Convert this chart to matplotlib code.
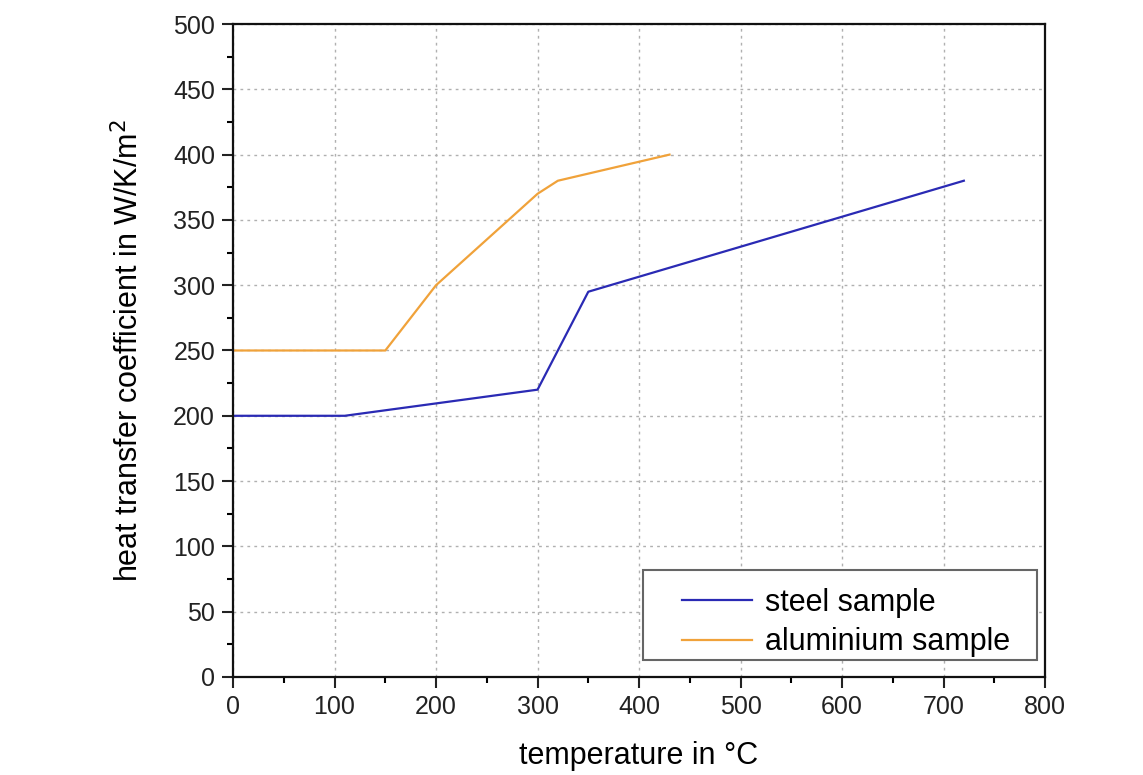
import matplotlib
matplotlib.use('Agg')
from matplotlib import pyplot as plt
from matplotlib.patches import Rectangle
from matplotlib.ticker import MultipleLocator

steel_t = [0, 110, 300, 350, 720]
steel_h = [200, 200, 220, 295, 380]
alu_t = [0, 150, 200, 300, 320, 430]
alu_h = [250, 250, 300, 370, 380, 400]

plt.rcParams['font.family'] = ['Liberation Sans', 'DejaVu Sans']

fig = plt.figure(figsize=(11.43, 7.75), dpi=100)
ax = fig.add_axes([0.2039, 0.1265, 0.7104, 0.8425])

ax.plot(steel_t, steel_h, color='#2a2ab4', lw=1.6, label='steel sample')
ax.plot(alu_t, alu_h, color='#f0a23a', lw=1.6, label='aluminium sample')

ax.set_xlim(0, 800)
ax.set_ylim(0, 500)
ax.xaxis.set_major_locator(MultipleLocator(100))
ax.xaxis.set_minor_locator(MultipleLocator(50))
ax.yaxis.set_major_locator(MultipleLocator(50))
ax.yaxis.set_minor_locator(MultipleLocator(25))
ax.tick_params(which='major', length=8, width=1.5, labelsize=18, colors='#222222', pad=5)
ax.tick_params(which='minor', length=4, width=1.5)
ax.tick_params(axis='both', which='both', top=False, right=False, direction='out')

ax.grid(True, which='major', color='#b0b0b0', linestyle=(0, (2, 3)), lw=1.0)
for s in ax.spines.values():
    s.set_linewidth(1.6)
    s.set_color('#111111')

ax.set_xlabel('temperature in °C', fontsize=22, labelpad=16)
ax.set_ylabel('heat transfer coefficient in W/K/m$^2$', fontsize=22, labelpad=20)

# legend frame is wider than its content in the original
box = Rectangle((0.505, 0.026), 0.485, 0.138, transform=ax.transAxes,
                facecolor='white', edgecolor='#666666', lw=1.5, zorder=4.5)
ax.add_patch(box)
leg = ax.legend(loc='center left', bbox_to_anchor=(0.538, 0.083), borderaxespad=0,
                fontsize=22, frameon=False, handlelength=2.3,
                borderpad=0.4, labelspacing=0.3, handletextpad=0.4)

fig.savefig('out.png', dpi=100)
